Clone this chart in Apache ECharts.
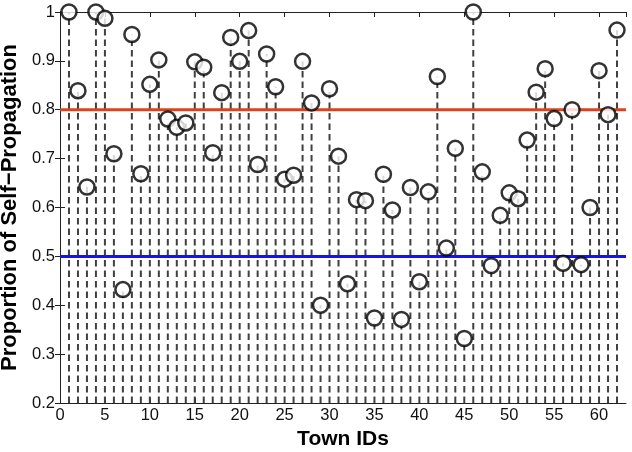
<!DOCTYPE html>
<html>
<head>
<meta charset="utf-8">
<script src="https://cdn.jsdelivr.net/npm/echarts@6/dist/echarts.min.js"></script>
<style>
  html, body { margin: 0; padding: 0; background: #fff; }
  #main { width: 632px; height: 452px; }
</style>
</head>
<body>
<div id="main"></div>
<script type="text/javascript">
// town ids and proportion of self-propagation
var townIds = [];
for (var i = 1; i <= 62; i++) townIds.push(i);
var proportions = [
  1.000, 0.839, 0.642, 1.000, 0.987, 0.710, 0.432, 0.954, 0.669, 0.852,
  0.902, 0.781, 0.764, 0.773, 0.898, 0.887, 0.712, 0.835, 0.948, 0.899,
  0.962, 0.688, 0.914, 0.847, 0.658, 0.666, 0.899, 0.814, 0.400, 0.843,
  0.705, 0.444, 0.616, 0.614, 0.374, 0.668, 0.595, 0.371, 0.641, 0.448,
  0.632, 0.868, 0.517, 0.721, 0.332, 1.000, 0.673, 0.481, 0.584, 0.630,
  0.618, 0.738, 0.836, 0.884, 0.782, 0.486, 0.800, 0.483, 0.600, 0.880,
  0.790, 0.963
];
var xTicks = [0, 5, 10, 15, 20, 25, 30, 35, 40, 45, 50, 55, 60];
var yTicks = [0.2, 0.3, 0.4, 0.5, 0.6, 0.7, 0.8, 0.9, 1];
var upperRef = 0.8;
var lowerRef = 0.5;

var pts = townIds.map(function (t, k) { return [t, proportions[k]]; });
var font = 'Liberation Sans, Arial, sans-serif';

var myChart = echarts.init(document.getElementById('main'));

var axisBase = {
  axisLine: { show: true, lineStyle: { color: '#222', width: 1 } },
  axisTick: { show: true, inside: true, length: 5, lineStyle: { color: '#222' } },
  splitLine: { show: false }
};

myChart.setOption({
  animation: false,
  backgroundColor: '#fff',
  grid: { left: 60, right: 6, top: 12, bottom: 49, outerBoundsMode: 'none', containLabel: false },
  xAxis: [
    Object.assign({
      type: 'value', min: 0, max: 63, interval: 5, position: 'bottom',
      name: 'Town IDs', nameLocation: 'middle', nameGap: 24,
      nameTextStyle: { fontFamily: font, fontWeight: 'bold', fontSize: 21, color: '#000' },
      axisLabel: {
        fontFamily: font, fontSize: 16.5, color: '#111', margin: 4,
        showMaxLabel: false,
        formatter: function (v) { return xTicks.indexOf(v) >= 0 ? String(v) : ''; }
      }
    }, axisBase),
    Object.assign({
      type: 'value', min: 0, max: 63, interval: 5, position: 'top',
      axisLabel: { show: false }
    }, axisBase)
  ],
  yAxis: [
    Object.assign({
      type: 'value', min: 0.2, max: 1, interval: 0.1, position: 'left',
      name: 'Proportion of Self\u2212Propagation', nameLocation: 'middle', nameGap: 33,
      nameTextStyle: { fontFamily: font, fontWeight: 'bold', fontSize: 22, color: '#000' },
      axisLabel: {
        fontFamily: font, fontSize: 16.5, color: '#111', margin: 5,
        formatter: function (v) {
          var r = Math.round(v * 10) / 10;
          return yTicks.indexOf(r) >= 0 ? String(r) : '';
        }
      }
    }, axisBase),
    Object.assign({
      type: 'value', min: 0.2, max: 1, interval: 0.1, position: 'right',
      axisLabel: { show: false }
    }, axisBase)
  ],
  series: [
    {
      type: 'custom',
      name: 'stems',
      clip: false,
      data: pts,
      renderItem: function (params, api) {
        var top = api.coord([api.value(0), api.value(1)]);
        var base = api.coord([api.value(0), 0.2]);
        return {
          type: 'line',
          shape: { x1: base[0], y1: base[1], x2: top[0], y2: top[1] },
          style: { stroke: '#404040', lineWidth: 2, lineDash: [6.5, 4] }
        };
      },
      z: 1
    },
    {
      type: 'line',
      name: 'upper',
      data: [[0, upperRef], [63, upperRef]],
      symbol: 'none',
      lineStyle: { color: '#d9441c', width: 3 },
      z: 2
    },
    {
      type: 'line',
      name: 'lower',
      data: [[0, lowerRef], [63, lowerRef]],
      symbol: 'none',
      lineStyle: { color: '#1414e6', width: 3 },
      z: 2
    },
    {
      type: 'scatter',
      name: 'towns',
      data: pts,
      symbol: 'circle',
      symbolSize: 15,
      clip: false,
      itemStyle: { color: '#fff', borderColor: '#000', borderWidth: 2.5 },
      z: 3
    }
  ]
});
</script>
</body>
</html>
